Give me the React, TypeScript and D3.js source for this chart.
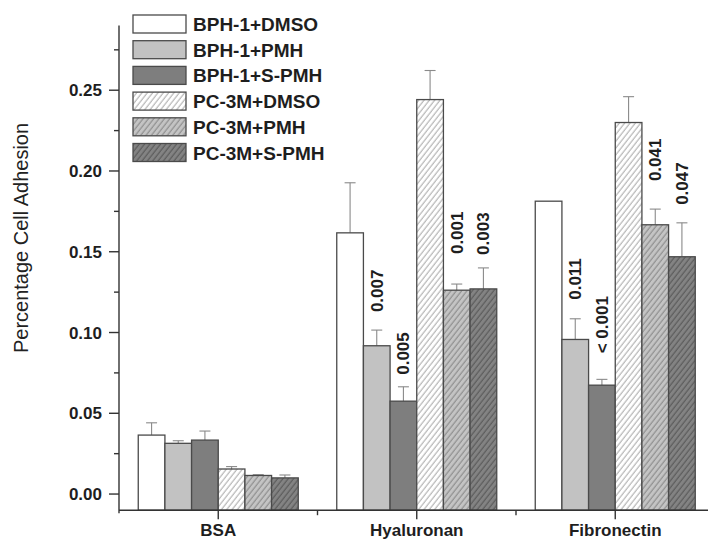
import React from "react";
import * as d3 from "d3";

const categories = ["BSA", "Hyaluronan", "Fibronectin"];
const seriesNames = [
  "BPH-1+DMSO",
  "BPH-1+PMH",
  "BPH-1+S-PMH",
  "PC-3M+DMSO",
  "PC-3M+PMH",
  "PC-3M+S-PMH",
];
// values per series, per category (BSA, Hyaluronan, Fibronectin)
const bph1Dmso = [0.0365, 0.1617, 0.1813];
const bph1Pmh = [0.0314, 0.0918, 0.0957];
const bph1SPmh = [0.0334, 0.0575, 0.0674];
const pc3mDmso = [0.0155, 0.2442, 0.2300];
const pc3mPmh = [0.0115, 0.1262, 0.1667];
const pc3mSPmh = [0.0100, 0.1270, 0.1469];
// upper error (SE)
const bph1DmsoErr = [0.0076, 0.031, 0];
const bph1PmhErr = [0.0016, 0.0097, 0.0128];
const bph1SPmhErr = [0.0056, 0.0089, 0.0036];
const pc3mDmsoErr = [0.0015, 0.018, 0.016];
const pc3mPmhErr = [0.0005, 0.0038, 0.0097];
const pc3mSPmhErr = [0.0018, 0.013, 0.021];

// p-value annotations: series index, category index, text
const pSeries = [1, 2, 4, 5, 1, 2, 4, 5];
const pCategory = [1, 1, 1, 1, 2, 2, 2, 2];
const pLabels = ["0.007", "0.005", "0.001", "0.003", "0.011", "< 0.001", "0.041", "0.047"];

const yTicks = [0.0, 0.05, 0.1, 0.15, 0.2, 0.25];
const yMinorTicks = [0.025, 0.075, 0.125, 0.175, 0.225, 0.275];

const values = [bph1Dmso, bph1Pmh, bph1SPmh, pc3mDmso, pc3mPmh, pc3mSPmh];
const errors = [bph1DmsoErr, bph1PmhErr, bph1SPmhErr, pc3mDmsoErr, pc3mPmhErr, pc3mSPmhErr];

const FONT = "'Liberation Sans', Arial, Helvetica, sans-serif";

const fills = ["#ffffff", "#c2c2c2", "#7e7e7e", "url(#hatch0)", "url(#hatch1)", "url(#hatch2)"];
const hatchBg = ["#ffffff", "#c4c4c4", "#838383"];
const hatchLine = ["#a8a8a8", "#858585", "#545454"];
const labelGaps = [18, 12, 30, 13, 19, 26, 28, 18];

export default function App() {
  const W = 708;
  const H = 541;
  const x0 = 119;
  const step = 198.5;
  const x = d3
    .scaleBand<string>()
    .domain(categories)
    .range([x0, x0 + step * categories.length])
    .paddingInner(0)
    .paddingOuter(0);
  const y = d3.scaleLinear().domain([-0.01, 0.29]).range([510.2, 25.6]);
  const groupW = 160;
  const inner = d3
    .scaleBand<number>()
    .domain(d3.range(seriesNames.length))
    .range([0, groupW])
    .padding(0);
  const groupStart = (c: string) => (x(c) as number) + x.bandwidth() / 2 - groupW / 2;
  const axisY = y(-0.01);

  return (
    <svg
      width={W}
      height={H}
      style={{ position: "absolute", left: 0, top: 0, background: "#fff" }}
      fontFamily={FONT}
    >
      <defs>
        {[0, 1, 2].map((i) => (
          <pattern
            key={i}
            id={`hatch${i}`}
            patternUnits="userSpaceOnUse"
            width={4.2}
            height={10}
            patternTransform="rotate(38)"
          >
            <rect width={4.2} height={10} fill={hatchBg[i]} />
            <line x1={1} y1={0} x2={1} y2={10} stroke={hatchLine[i]} strokeWidth={1} />
          </pattern>
        ))}
      </defs>
      <rect x={0} y={0} width={W} height={H} fill="#fff" />

      {/* bars */}
      {categories.map((c, ci) =>
        values.map((vals, si) => {
          const bx = groupStart(c) + (inner(si) as number);
          const top = y(vals[ci]);
          const errTop = y(vals[ci] + errors[si][ci]);
          const cx = bx + inner.bandwidth() / 2;
          return (
            <g key={`${ci}-${si}`}>
              {errors[si][ci] > 0 && (
                <g stroke="#8a8a8a" strokeWidth={1.1}>
                  <line x1={cx} x2={cx} y1={top} y2={errTop} />
                  <line x1={cx - 5.5} x2={cx + 5.5} y1={errTop} y2={errTop} />
                </g>
              )}
              <rect
                x={bx}
                y={top}
                width={inner.bandwidth()}
                height={axisY - top}
                fill={fills[si]}
                stroke="#4a4a4a"
                strokeWidth={1.3}
              />
            </g>
          );
        })
      )}

      {/* p-value labels */}
      {pLabels.map((t, i) => {
        const si = pSeries[i];
        const ci = pCategory[i];
        const cx = groupStart(categories[ci]) + (inner(si) as number) + inner.bandwidth() / 2;
        const ty = y(values[si][ci] + errors[si][ci]) - labelGaps[i];
        return (
          <text
            key={t + i}
            transform={`translate(${cx + 6},${ty}) rotate(-90)`}
            fontSize={17}
            fontWeight="bold"
            fill="#1e1e1e"
            textAnchor="start"
          >
            {t}
          </text>
        );
      })}

      {/* y axis */}
      <g stroke="#333" strokeWidth={1.4}>
        <line x1={x0} x2={x0} y1={y(0.29)} y2={axisY + 3} />
        {yTicks.map((t) => (
          <line key={t} x1={x0 - 10} x2={x0} y1={y(t)} y2={y(t)} />
        ))}
        {yMinorTicks.map((t) => (
          <line key={t} x1={x0 - 5} x2={x0} y1={y(t)} y2={y(t)} />
        ))}
      </g>
      {yTicks.map((t) => (
        <text
          key={t}
          x={x0 - 17}
          y={y(t)}
          dy="0.36em"
          textAnchor="end"
          fontSize={17}
          fontWeight="bold"
          fill="#1e1e1e"
        >
          {d3.format(".2f")(t)}
        </text>
      ))}
      <text
        transform={`translate(28,238) rotate(-90)`}
        textAnchor="middle"
        fontSize={20}
        fill="#222"
      >
        Percentage Cell Adhesion
      </text>

      {/* x axis */}
      <g stroke="#333" strokeWidth={1.4}>
        <line x1={x0} x2={W} y1={axisY} y2={axisY} />
        {categories.map((c) => {
          const cx = (x(c) as number) + x.bandwidth() / 2;
          return <line key={c} x1={cx} x2={cx} y1={axisY} y2={axisY + 9} />;
        })}
        {categories.slice(1).map((c) => {
          const bx = x(c) as number;
          return <line key={c} x1={bx} x2={bx} y1={axisY} y2={axisY + 5} />;
        })}
      </g>
      {categories.map((c) => (
        <text
          key={c}
          x={(x(c) as number) + x.bandwidth() / 2}
          y={535.5}
          textAnchor="middle"
          fontSize={17}
          fontWeight="bold"
          fill="#1e1e1e"
        >
          {c}
        </text>
      ))}

      {/* legend */}
      {seriesNames.map((n, i) => {
        const ly = 15 + i * 25.7;
        return (
          <g key={n}>
            <rect
              x={133}
              y={ly}
              width={53}
              height={18}
              fill={fills[i]}
              stroke="#4a4a4a"
              strokeWidth={1.3}
            />
            <text x={193} y={ly + 16} fontSize={19} fontWeight="bold" fill="#1e1e1e">
              {n}
            </text>
          </g>
        );
      })}
    </svg>
  );
}
